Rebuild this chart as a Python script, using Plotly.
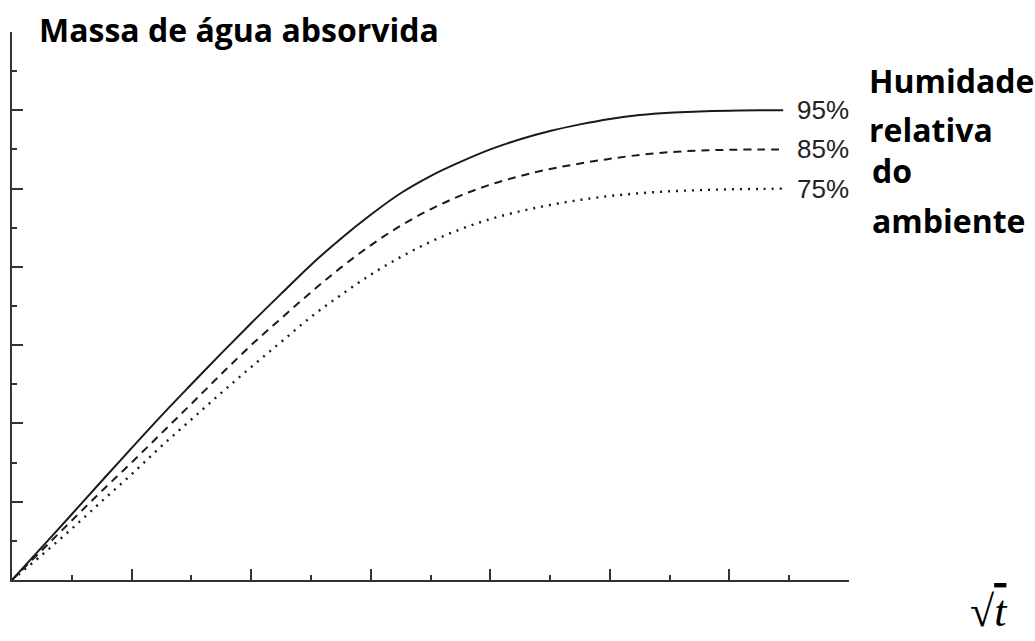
import plotly.graph_objects as go

# Water uptake curves versus square root of time, for three ambient humidities
sqrt_t = [0, 0.5, 1, 1.5, 2, 2.5, 3, 3.5, 4, 4.5, 5, 5.5, 6, 6.5, 7, 7.5,
          8, 8.5, 9, 9.5, 10, 10.5, 11, 11.5, 12, 12.5, 12.9]

massa_95 = [0, 0.84, 1.68, 2.53, 3.37, 4.2, 5.0, 5.79, 6.56, 7.31, 8.05, 8.72,
            9.33, 9.88, 10.32, 10.68, 11.0, 11.26, 11.47, 11.64, 11.78, 11.88,
            11.94, 11.97, 11.99, 12.0, 12.0]
massa_85 = [0, 0.76, 1.52, 2.27, 3.0, 3.75, 4.5, 5.26, 6.0, 6.68, 7.35, 7.98,
            8.55, 9.05, 9.47, 9.82, 10.1, 10.32, 10.5, 10.64, 10.76, 10.86,
            10.93, 10.97, 10.99, 11.0, 11.0]
massa_75 = [0, 0.64, 1.31, 2.01, 2.7, 3.42, 4.1, 4.78, 5.44, 6.08, 6.72, 7.28,
            7.8, 8.25, 8.64, 8.96, 9.22, 9.42, 9.58, 9.71, 9.81, 9.88, 9.93,
            9.96, 9.98, 9.99, 10.0]

humidade = ["95%", "85%", "75%"]
series = [massa_95, massa_85, massa_75]
dashes = ["solid", "8px,6px", "2px,6px"]
widths = [2, 2, 2.4]

INK = "#1a1a1a"
AXIS = "#333333"

fig = go.Figure()
for label, ys, dash, w in zip(humidade, series, dashes, widths):
    fig.add_trace(go.Scatter(
        x=sqrt_t, y=ys, mode="lines", name=label,
        line=dict(color=INK, width=w, dash=dash, shape="spline", smoothing=1.0),
        hoverinfo="skip", showlegend=False,
    ))
    # percentage tag at the end of each curve
    fig.add_annotation(
        x=sqrt_t[-1] + 0.2, y=ys[-1], xref="x", yref="y",
        text=label, showarrow=False, xanchor="left", yanchor="middle",
        font=dict(family="Liberation Sans", size=26, color="#222222"),
    )

axis_common = dict(
    showgrid=False, zeroline=False, showticklabels=False,
    showline=True, linecolor=AXIS, linewidth=2,
    ticks="inside", ticklen=11, tickwidth=2, tickcolor=AXIS,
    tick0=0, dtick=2, range=[0, 14], fixedrange=True,
    minor=dict(ticks="inside", ticklen=5, tickwidth=2, tickcolor=AXIS,
               dtick=1, showgrid=False),
)
fig.update_xaxes(**axis_common)
fig.update_yaxes(**axis_common)

bold = dict(family="Open Sans", size=32, color="#000000")
fig.add_annotation(
    x=0.03, y=1.004, xref="paper", yref="paper", showarrow=False,
    text="<b>Massa de água absorvida</b>", xanchor="left", yanchor="middle",
    font=bold,
)

legend_lines = [("Humidade", 0.0, 0.869), ("relativa", 0.0, 0.780),
                ("do", 0.004, 0.705), ("ambiente", 0.004, 0.614)]
for txt, dx, yp in legend_lines:
    fig.add_annotation(
        x=1.0215 + dx, y=yp, xref="paper", yref="paper", showarrow=False,
        text=f"<b>{txt}</b>", xanchor="left", yanchor="bottom",
        font=bold,
    )

fig.add_annotation(
    x=1.167, y=-0.058, xref="paper", yref="paper", showarrow=False,
    text="√<span style='text-decoration:overline'><i>t</i></span>",
    xanchor="center", yanchor="middle",
    font=dict(family="Liberation Serif", size=44, color="#000000"),
)

fig.update_layout(
    width=1035, height=641,
    margin=dict(l=12, r=186, t=32, b=61),
    plot_bgcolor="white", paper_bgcolor="white",
)

fig.write_html("out.html")
